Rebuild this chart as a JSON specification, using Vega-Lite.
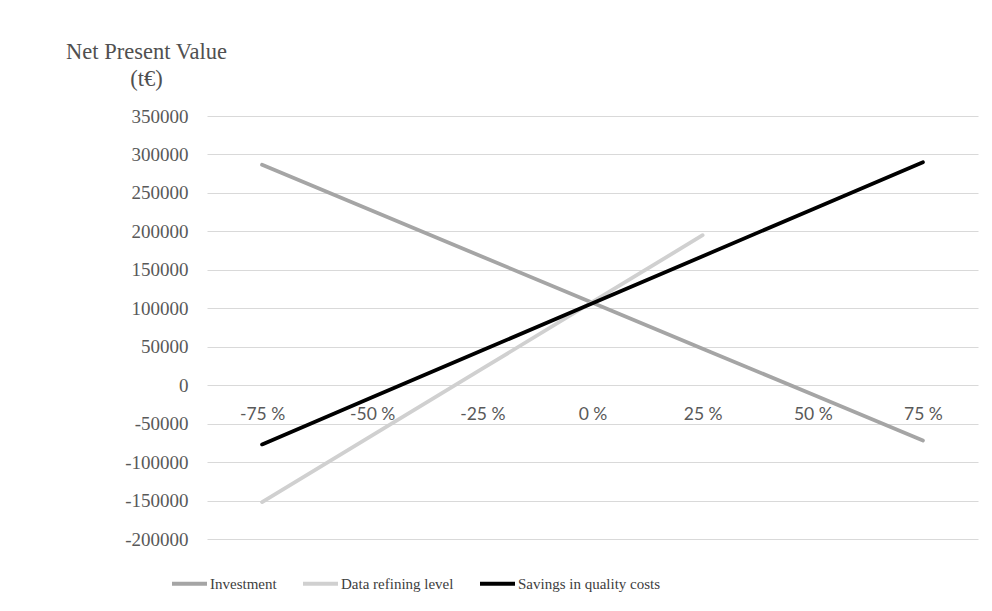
{
  "$schema": "https://vega.github.io/schema/vega-lite/v6.json",
  "width": 771,
  "height": 423,
  "autosize": "none",
  "padding": {"left": 207, "top": 116, "right": 14, "bottom": 72},
  "background": "white",
  "config": {"view": {"stroke": null}, "font": "Liberation Serif"},
  "data": {
    "values": [
      {"series": "Investment", "change": "-75 %", "npv": 286500},
      {"series": "Investment", "change": "-50 %", "npv": 226800},
      {"series": "Investment", "change": "-25 %", "npv": 167000},
      {"series": "Investment", "change": "0 %", "npv": 107300},
      {"series": "Investment", "change": "25 %", "npv": 47500},
      {"series": "Investment", "change": "50 %", "npv": -12200},
      {"series": "Investment", "change": "75 %", "npv": -72000},
      {"series": "Data refining level", "change": "-75 %", "npv": -152000},
      {"series": "Data refining level", "change": "-50 %", "npv": -65300},
      {"series": "Data refining level", "change": "-25 %", "npv": 21500},
      {"series": "Data refining level", "change": "0 %", "npv": 108200},
      {"series": "Data refining level", "change": "25 %", "npv": 195000},
      {"series": "Savings in quality costs", "change": "-75 %", "npv": -77000},
      {"series": "Savings in quality costs", "change": "-50 %", "npv": -15800},
      {"series": "Savings in quality costs", "change": "-25 %", "npv": 45300},
      {"series": "Savings in quality costs", "change": "0 %", "npv": 106500},
      {"series": "Savings in quality costs", "change": "25 %", "npv": 167700},
      {"series": "Savings in quality costs", "change": "50 %", "npv": 228800},
      {"series": "Savings in quality costs", "change": "75 %", "npv": 290000}
    ]
  },
  "mark": {"type": "line", "strokeWidth": 3.8, "strokeCap": "round"},
  "encoding": {
    "x": {
      "field": "change",
      "type": "ordinal",
      "sort": ["-75 %", "-50 %", "-25 %", "0 %", "25 %", "50 %", "75 %"],
      "scale": {"type": "point", "padding": 0.5},
      "axis": {
        "title": null,
        "offset": {"expr": "scale('y', 0) - height"},
        "domain": false,
        "ticks": false,
        "grid": false,
        "labelAngle": 0,
        "labelPadding": 20,
        "labelFont": "Lato",
        "labelFontSize": 17.5,
        "labelColor": "#595959"
      }
    },
    "y": {
      "field": "npv",
      "type": "quantitative",
      "scale": {"domain": [-200000, 350000], "nice": false, "zero": false},
      "axis": {
        "title": ["Net Present Value", "(t€)"],
        "titleAngle": 0,
        "titleAlign": "center",
        "titleBaseline": "alphabetic",
        "titleX": -61,
        "titleY": -58,
        "titleFont": "Liberation Serif",
        "titleFontSize": 22.5,
        "titleFontWeight": "normal",
        "titleColor": "#505050",
        "titleLineHeight": 27,
        "values": [-200000, -150000, -100000, -50000, 0, 50000, 100000, 150000, 200000, 250000, 300000, 350000],
        "labelExpr": "datum.value + ''",
        "domain": false,
        "ticks": false,
        "labelPadding": 19,
        "labelFont": "Liberation Serif",
        "labelFontSize": 19,
        "labelColor": "#595959",
        "gridColor": "#d9d9d9",
        "gridWidth": 1
      }
    },
    "color": {
      "field": "series",
      "type": "nominal",
      "sort": ["Investment", "Data refining level", "Savings in quality costs"],
      "scale": {
        "domain": ["Investment", "Data refining level", "Savings in quality costs"],
        "range": ["#a5a5a5", "#d0d0d0", "#000000"]
      },
      "legend": {
        "title": null,
        "orient": "none",
        "direction": "horizontal",
        "legendX": -37,
        "legendY": 448,
        "symbolType": "stroke",
        "symbolSize": 1225,
        "symbolStrokeWidth": 4,
        "labelOffset": 1,
        "columnPadding": 18,
        "labelLimit": 400,
        "labelFont": "Liberation Serif",
        "labelFontSize": 15,
        "labelColor": "#404040"
      }
    }
  }
}
